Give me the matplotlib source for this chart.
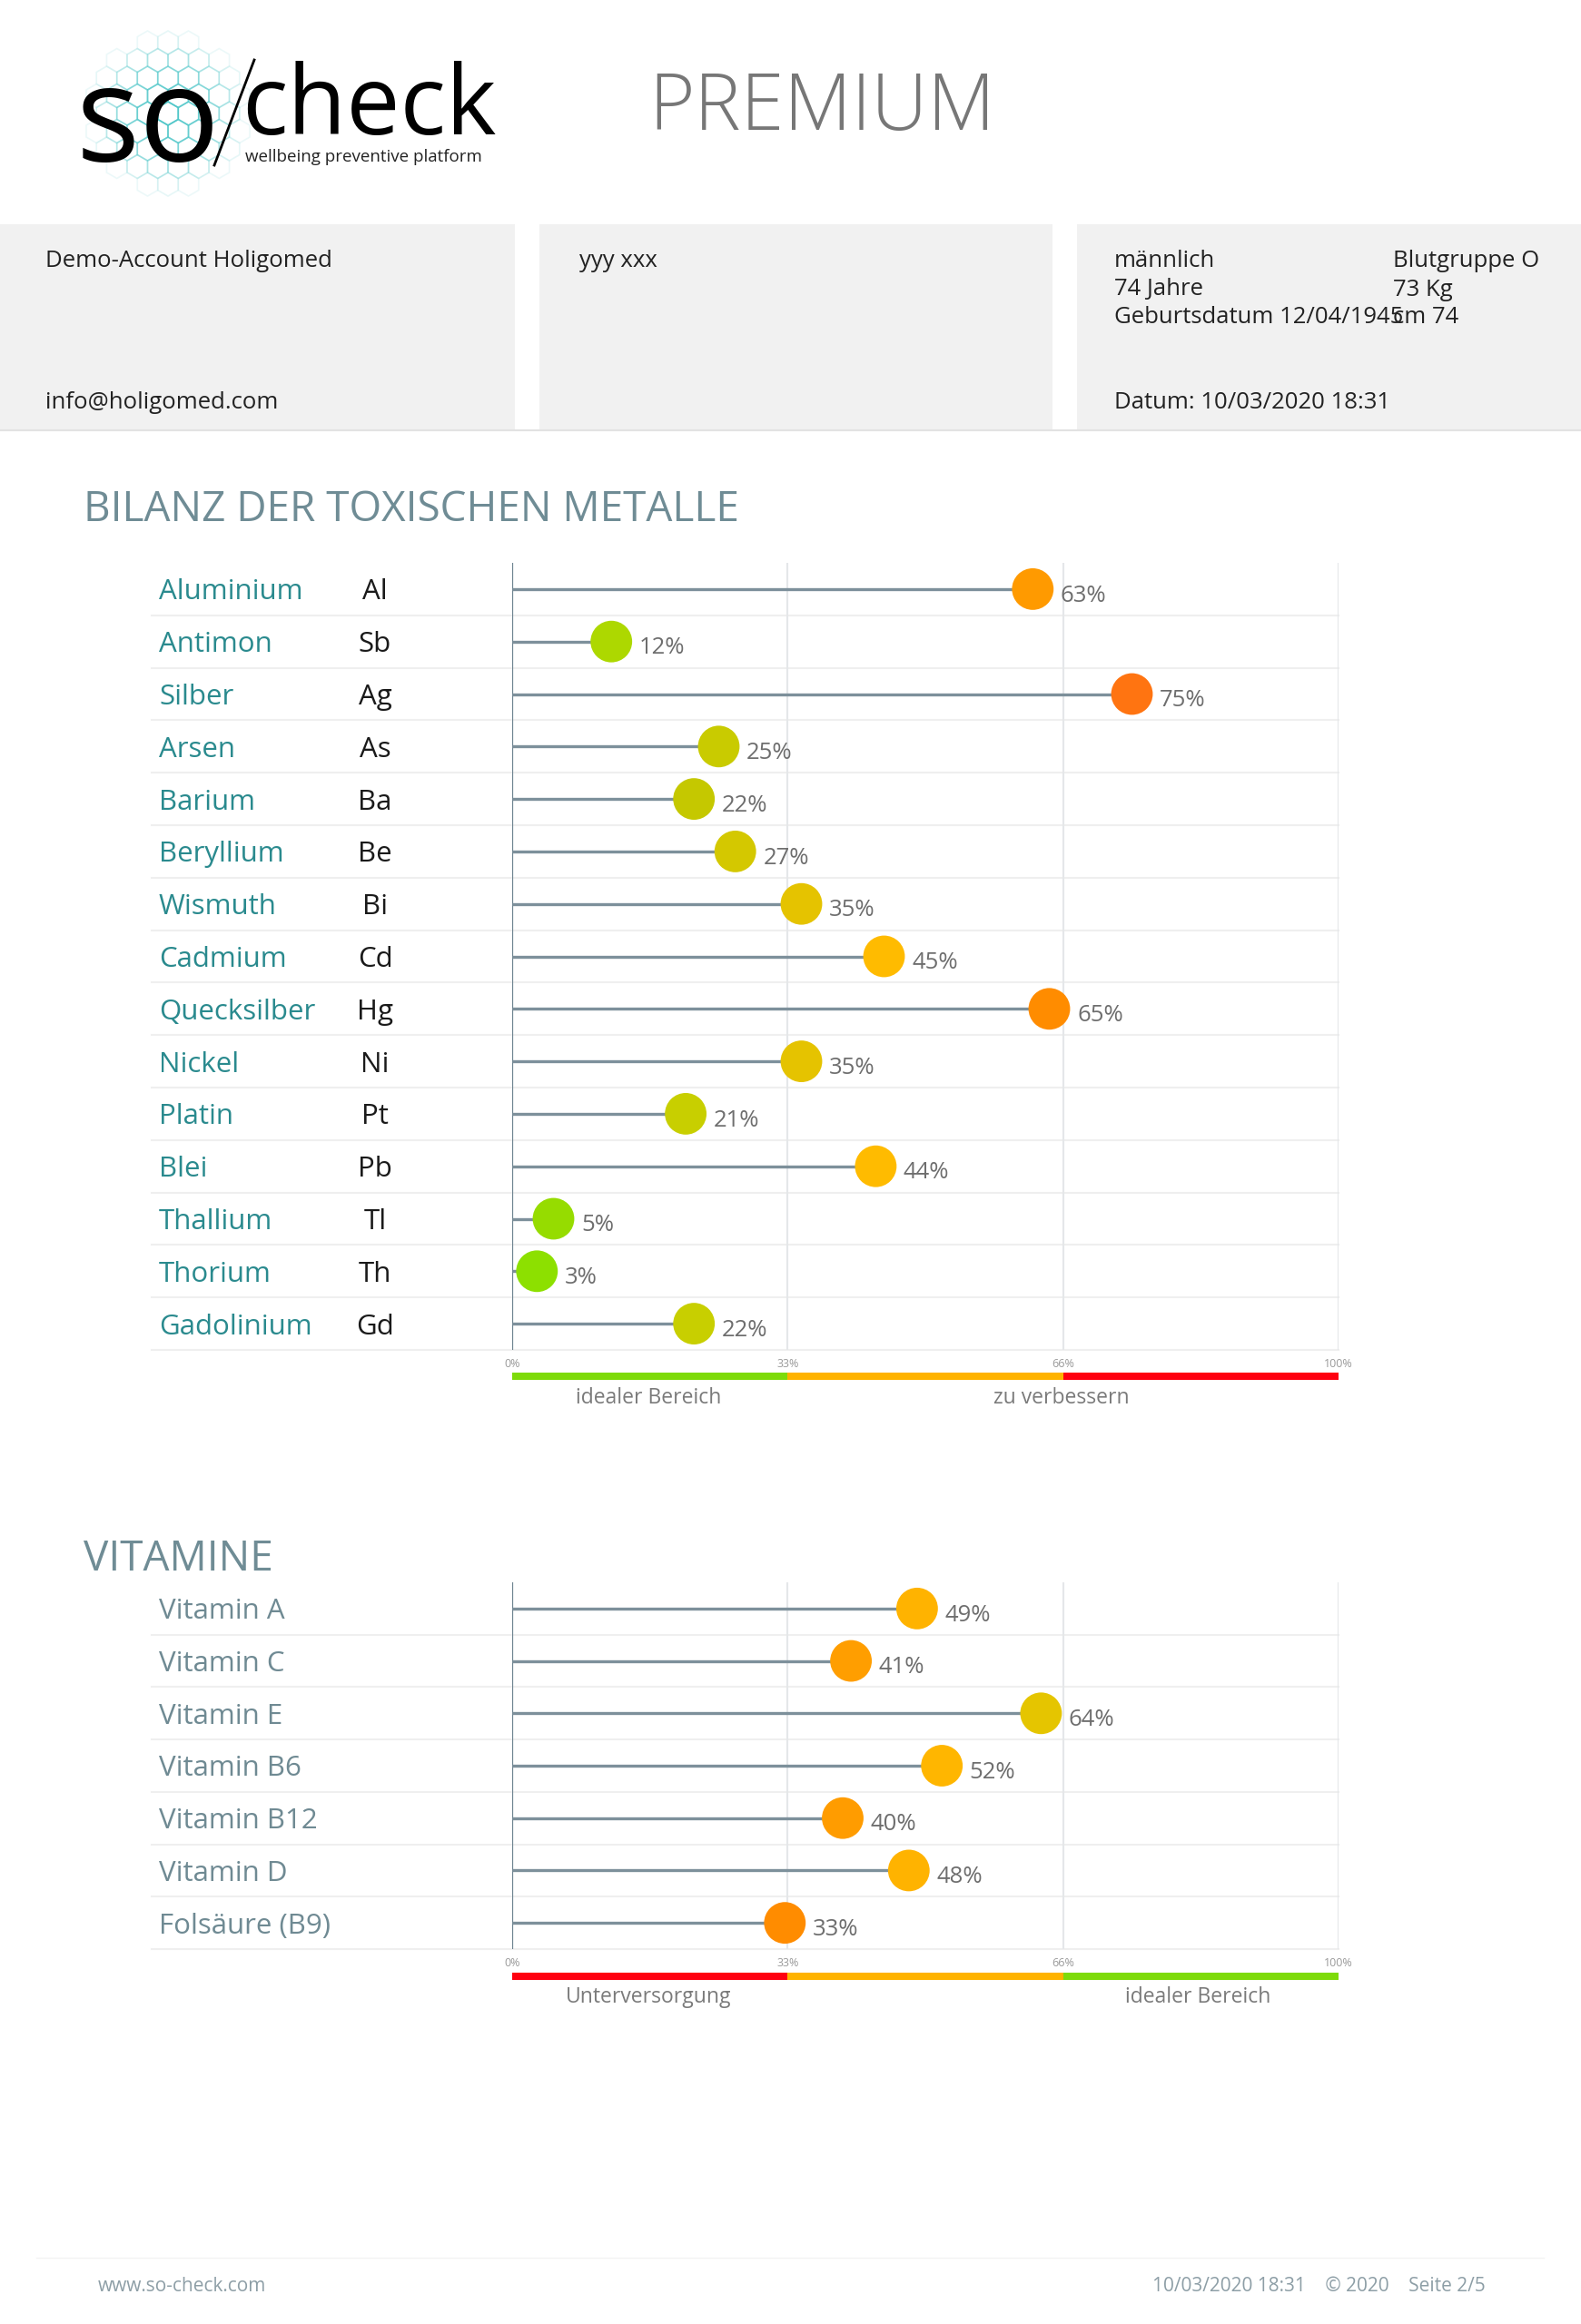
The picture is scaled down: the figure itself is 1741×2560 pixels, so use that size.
import matplotlib
matplotlib.use("Agg")
import matplotlib.pyplot as plt
import matplotlib.transforms as mtransforms
from matplotlib.patches import Rectangle, RegularPolygon
import numpy as np

plt.rcParams['font.family'] = ['Open Sans', 'DejaVu Sans']

# --- data ---------------------------------------------------------------
metal_names = ['Aluminium', 'Antimon', 'Silber', 'Arsen', 'Barium', 'Beryllium',
               'Wismuth', 'Cadmium', 'Quecksilber', 'Nickel', 'Platin', 'Blei',
               'Thallium', 'Thorium', 'Gadolinium']
metal_symbols = ['Al', 'Sb', 'Ag', 'As', 'Ba', 'Be', 'Bi', 'Cd', 'Hg', 'Ni',
                 'Pt', 'Pb', 'Tl', 'Th', 'Gd']
metal_values = [63, 12, 75, 25, 22, 27, 35, 45, 65, 35, 21, 44, 5, 3, 22]
metal_colors = ['#ff9a00', '#add800', '#ff7411', '#c9cb00', '#c5c800', '#d4c800',
                '#e5c300', '#ffbb00', '#ff8c00', '#e5c300', '#c8cf00', '#ffbb00',
                '#96dc00', '#8de000', '#c8cf00']

vit_names = ['Vitamin A', 'Vitamin C', 'Vitamin E', 'Vitamin B6', 'Vitamin B12',
             'Vitamin D', 'Folsäure (B9)']
vit_values = [49, 41, 64, 52, 40, 48, 33]
vit_colors = ['#ffb300', '#ff9e00', '#e5c500', '#ffb600', '#ff9c00', '#ffb300', '#ff8c00']

# range limits are thirds of the scale, labelled 33% / 66%
range_edges = [0, 100 / 3, 200 / 3, 100]
tick_labels = ['0%', '33%', '66%', '100%']
metal_band_colors = ['#7edb0a', '#ffb300', '#ff0010']
vit_band_colors = ['#ff0010', '#ffb300', '#7edb0a']
metal_band_text = [(16.5, 'idealer Bereich'), (66.5, 'zu verbessern')]
vit_band_text = [(16.5, 'Unterversorgung'), (83, 'idealer Bereich')]

W, H = 1741, 2560
fig = plt.figure(figsize=(W / 100, H / 100), dpi=100)
fig.patch.set_facecolor('white')

page = fig.add_axes([0, 0, 1, 1])
page.set_xlim(0, W)
page.set_ylim(H, 0)
page.axis('off')

# --- header -------------------------------------------------------------
# honeycomb behind the logo
hx, hy, hr = 185, 125, 13
for row in range(-7, 8):
    for col in range(-6, 7):
        cx = hx + col * hr * np.sqrt(3) + (row % 2) * hr * np.sqrt(3) / 2
        cy = hy + row * hr * 1.5
        d = np.hypot(cx - hx, cy - hy)
        if d < 85:
            page.add_patch(RegularPolygon((cx, cy), 6, radius=hr, orientation=0,
                                          fill=False, edgecolor='#4cc6c8',
                                          lw=1.2, alpha=0.9 * (1 - d / 92)))
page.text(84, 178, 'so', fontsize=106, color='black', ha='left', va='baseline')
page.plot([236, 280], [182, 66], color='black', lw=2)
page.text(266, 148, 'check', fontsize=76, color='black', ha='left', va='baseline')
page.text(270, 173, 'wellbeing preventive platform', fontsize=13.5, color='#222222',
          ha='left', va='center')
page.text(714, 120, 'PREMIUM', fontsize=62, color='#777777', weight='light',
          ha='left', va='center')

for x0, x1 in [(0, 567), (594, 1159), (1186, 1741)]:
    page.add_patch(Rectangle((x0, 247), x1 - x0, 226, facecolor='#f1f1f1', edgecolor='none'))
page.plot([0, W], [474, 474], color='#e2e2e2', lw=1.5)

hdr = dict(fontsize=18.5, color='#222222', ha='left', va='center_baseline')
page.text(50, 285, 'Demo-Account Holigomed', **hdr)
page.text(50, 440, 'info@holigomed.com', **hdr)
page.text(638, 285, 'yyy xxx', **hdr)
page.text(1227, 285, 'männlich', **hdr)
page.text(1227, 316, '74 Jahre', **hdr)
page.text(1227, 347, 'Geburtsdatum 12/04/1945', **hdr)
page.text(1534, 285, 'Blutgruppe O', **hdr)
page.text(1534, 316, '73 Kg', **hdr)
page.text(1534, 347, 'cm 74', **hdr)
page.text(1227, 440, 'Datum: 10/03/2020 18:31', **hdr)

title_kw = dict(fontsize=33, color='#6f8c95', ha='left', va='center_baseline')
page.text(92, 557, 'BILANZ DER TOXISCHEN METALLE', **title_kw)
page.text(92, 1713, 'VITAMINE', **title_kw)

# footer
page.plot([40, 1700], [2487, 2487], color='#f3f3f3', lw=1)
foot = dict(fontsize=15, color='#8d9ea6', va='center_baseline')
page.text(108, 2516, 'www.so-check.com', ha='left', **foot)
page.text(1636, 2516, '10/03/2020 18:31    © 2020    Seite 2/5', ha='right', **foot)


def px_axes(x0, y0, x1, y1):
    return fig.add_axes([x0 / W, 1 - y1 / H, (x1 - x0) / W, (y1 - y0) / H])


def lollipop(ax, names, values, colors, name_color, symbols=None,
             band_colors=None, band_text=None, tick_y=0, band_y=0, text_y=0):
    n = len(names)
    ys = np.arange(n)
    ax.set_xlim(0, 100)
    ax.set_ylim(n - 0.5, -0.5)
    ax.axis('off')
    left = (167 - 564) / 9.1
    for i in ys:
        ax.plot([left, 100], [i + 0.5, i + 0.5], color='#efefef', lw=1.5,
                clip_on=False, zorder=0)
    for g in range_edges[1:]:
        ax.axvline(g, color='#e5e7e9', lw=1.5, zorder=0)
    ax.axvline(0, color='#6d8390', lw=1.6, zorder=1)
    ax.hlines(ys, 0, values, color='#7d909b', lw=2.4, zorder=2)
    ax.scatter(values, ys, s=33 ** 2, c=colors, edgecolors='none', zorder=3)
    for v, y in zip(values, ys):
        ax.annotate(f'{v}%', (v, y), xytext=(22, -3), textcoords='offset points',
                    fontsize=18.5, color='#6e6e6e', ha='left', va='center_baseline')

    tx = mtransforms.blended_transform_factory(fig.transFigure, ax.transData)
    for name, y in zip(names, ys):
        ax.text(175 / W, y, name, transform=tx, fontsize=22.5, color=name_color,
                ha='left', va='center_baseline')
    if symbols is not None:
        for s, y in zip(symbols, ys):
            ax.text(413 / W, y, s, transform=tx, fontsize=22.5, color='#1a1a1a',
                    ha='center', va='center_baseline')

    ty = mtransforms.blended_transform_factory(ax.transData, fig.transFigure)
    for e, lab in zip(range_edges, tick_labels):
        ax.text(e, 1 - tick_y / H, lab, transform=ty, fontsize=9, color='#9a9a9a',
                ha='center', va='center')
    for a, b, c in zip(range_edges[:-1], range_edges[1:], band_colors):
        ax.plot([a, b], [1 - band_y / H] * 2, transform=ty, color=c, lw=5.8,
                solid_capstyle='butt', clip_on=False)
    for x, lab in band_text:
        ax.text(x, 1 - text_y / H, lab, transform=ty, fontsize=16.5, color='#7a7a7a',
                ha='center', va='center_baseline')


ax1 = px_axes(564, 620, 1474, 1487)
lollipop(ax1, metal_names, metal_values, metal_colors, '#2a8a8e', metal_symbols,
         metal_band_colors, metal_band_text, 1503, 1516, 1537)

ax2 = px_axes(564, 1743, 1474, 2147)
lollipop(ax2, vit_names, vit_values, vit_colors, '#6f8a93', None,
         vit_band_colors, vit_band_text, 2163, 2177, 2197)

fig.savefig('out.png', dpi=100, facecolor='white')
